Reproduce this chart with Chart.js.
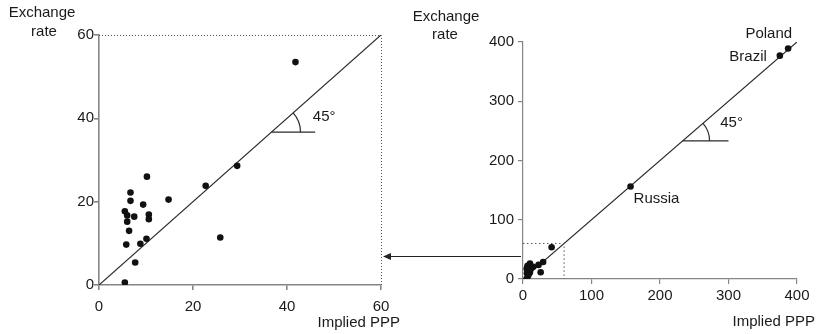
<!DOCTYPE html>
<html>
<head>
<meta charset="utf-8">
<script src="https://cdn.jsdelivr.net/npm/chart.js@4/dist/chart.umd.min.js"></script>
<style>
  html, body { margin: 0; padding: 0; background: #fff; }
  #wrap { position: relative; width: 818px; height: 334px; overflow: hidden; }
  #wrap canvas { position: absolute; left: 0; top: 0; }
</style>
</head>
<body>
<div id="wrap">
  <canvas id="zoomChart" width="818" height="334"></canvas>
  <canvas id="fullChart" width="818" height="334"></canvas>
</div>
<script>
// Implied PPP against the market exchange rate, one point per country
const impliedPPP   = [41.8, 29.4, 22.7, 25.8, 14.8, 10.2, 6.7, 6.7, 9.4, 5.5, 6.0, 7.5, 6.0, 10.6, 10.6, 6.4, 5.8, 8.8, 10.1, 7.7, 5.5];
const exchangeRate = [53.5, 28.6, 23.8, 11.4, 20.5, 26.0, 22.2, 20.2, 19.3, 17.7, 16.7, 16.4, 15.2, 16.9, 15.8, 13.0, 9.7, 9.9, 11.1, 5.4, 0.6];

// Countries far out along the line, named on the full-range panel
const namedCountries = ['Russia', 'Brazil', 'Poland'];
const namedPPP       = [157, 375, 387];
const namedRate      = [156, 377, 389];

// Axis ticks of the two panels
const zoomTicks = [0, 20, 40, 60];
const fullTicks = [0, 100, 200, 300, 400];

const FONT = 'Liberation Sans, Arial, Helvetica, sans-serif';
const INK = '#1a1a1a';
const AXIS = '#858585';

const toPoints = (xs, ys) => xs.map((x, i) => ({ x, y: ys[i] }));
const zoomMax = zoomTicks[zoomTicks.length - 1];
const fullMax = fullTicks[fullTicks.length - 1];

function axis(ticks, opts) {
  return {
    type: 'linear',
    min: ticks[0],
    max: ticks[ticks.length - 1],
    afterBuildTicks: s => { s.ticks = ticks.map(v => ({ value: v })); },
    afterFit: opts.fit,
    grid: { display: true, drawOnChartArea: false, drawTicks: true, tickLength: 5, color: AXIS, lineWidth: opts.lw },
    border: { display: true, color: AXIS, width: opts.lw },
    ticks: { padding: opts.pad, maxRotation: 0, color: INK, font: { family: FONT, size: 15 } }
  };
}

// Angle marker: short horizontal stroke and arc where it meets the diagonal
function angleMarker(chart, at, to, radius, labelX, labelY) {
  const { ctx, scales: { x, y } } = chart;
  const cx = x.getPixelForValue(at), cy = y.getPixelForValue(at);
  const ang = Math.atan2(y.getPixelForValue(1) - y.getPixelForValue(0), x.getPixelForValue(1) - x.getPixelForValue(0));
  ctx.save();
  ctx.strokeStyle = '#2a2a2a';
  ctx.lineWidth = 1.2;
  ctx.beginPath();
  ctx.moveTo(cx, cy);
  ctx.lineTo(x.getPixelForValue(to), cy);
  ctx.stroke();
  ctx.beginPath();
  ctx.arc(cx, cy, radius, ang, 0);
  ctx.stroke();
  ctx.fillStyle = INK;
  ctx.font = '15px ' + FONT;
  ctx.textAlign = 'left';
  ctx.textBaseline = 'middle';
  ctx.fillText('45°', x.getPixelForValue(labelX), y.getPixelForValue(labelY));
  ctx.restore();
}

function text(ctx, str, px, py, align) {
  ctx.fillStyle = INK;
  ctx.font = '15px ' + FONT;
  ctx.textAlign = align;
  ctx.textBaseline = 'middle';
  ctx.fillText(str, px, py);
}

const zoomDecor = {
  id: 'zoomDecor',
  afterDraw(chart) {
    const { ctx, chartArea: a, scales: { x, y } } = chart;
    // dotted frame closing the enlarged window
    ctx.save();
    ctx.strokeStyle = '#555';
    ctx.lineWidth = 1;
    ctx.setLineDash([1, 2]);
    ctx.beginPath();
    ctx.moveTo(x.getPixelForValue(0), y.getPixelForValue(zoomMax) + 0.5);
    ctx.lineTo(x.getPixelForValue(zoomMax) + 0.5, y.getPixelForValue(zoomMax) + 0.5);
    ctx.lineTo(x.getPixelForValue(zoomMax) + 0.5, y.getPixelForValue(0));
    ctx.stroke();
    ctx.restore();

    angleMarker(chart, 36.7, 46, 29, 45.5, 40.4);

    ctx.save();
    text(ctx, 'Exchange', a.left - 57, a.top - 22, 'center');
    text(ctx, 'rate', a.left - 55, a.top - 3, 'center');
    text(ctx, 'Implied PPP', a.right + 19, a.bottom + 38, 'right');
    ctx.restore();
  }
};

const zoomChart = new Chart(document.getElementById('zoomChart'), {
  type: 'scatter',
  data: {
    datasets: [
      {
        data: [{ x: 0, y: 0 }, { x: zoomMax, y: zoomMax }],
        showLine: true, borderColor: '#2a2a2a', borderWidth: 1.2, pointRadius: 0, order: 2
      },
      {
        data: toPoints(impliedPPP, exchangeRate),
        pointRadius: 3.3, pointBackgroundColor: '#111', pointBorderWidth: 0, order: 1
      }
    ]
  },
  options: {
    responsive: false,
    animation: false,
    layout: { padding: { left: 0, top: 35, right: 437, bottom: 0 } },
    plugins: { legend: { display: false }, tooltip: { enabled: false } },
    scales: {
      x: axis(zoomTicks, { fit: s => { s.height = 49; }, lw: 1.6, pad: 8 }),
      y: axis(zoomTicks, { fit: s => { s.width = 99; }, lw: 1.6, pad: 0 })
    }
  },
  plugins: [zoomDecor]
});

const labelOffsets = { Russia: [3, 12, 'left'], Brazil: [-13, 1, 'right'], Poland: [4, -15, 'right'] };
const ARROW_Y = 38;

const fullDecor = {
  id: 'fullDecor',
  afterDraw(chart) {
    const { ctx, chartArea: a, scales: { x, y } } = chart;
    angleMarker(chart, 233, 300, 27, 288, 263);

    ctx.save();
    namedCountries.forEach((name, i) => {
      const [dx, dy, align] = labelOffsets[name];
      text(ctx, name, x.getPixelForValue(namedPPP[i]) + dx, y.getPixelForValue(namedRate[i]) + dy, align);
    });
    text(ctx, 'Exchange', a.left - 77, a.top - 25, 'center');
    text(ctx, 'rate', a.left - 78, a.top - 7, 'center');
    text(ctx, 'Implied PPP', a.right + 18, a.bottom + 43, 'right');

    // arrow pointing from the small window to its enlargement
    const ay = y.getPixelForValue(ARROW_Y);
    const x0 = x.getPixelForValue(0) - 2;
    const x1 = zoomChart.scales.x.getPixelForValue(zoomMax) + 2;
    ctx.strokeStyle = '#222';
    ctx.fillStyle = '#222';
    ctx.lineWidth = 1.2;
    ctx.beginPath();
    ctx.moveTo(x0, ay);
    ctx.lineTo(x1 + 6, ay);
    ctx.stroke();
    ctx.beginPath();
    ctx.moveTo(x1, ay);
    ctx.lineTo(x1 + 8, ay - 3.5);
    ctx.lineTo(x1 + 8, ay + 3.5);
    ctx.closePath();
    ctx.fill();
    ctx.restore();
  }
};

new Chart(document.getElementById('fullChart'), {
  type: 'scatter',
  data: {
    datasets: [
      {
        data: [{ x: 0, y: 0 }, { x: fullMax, y: fullMax }],
        showLine: true, borderColor: '#2a2a2a', borderWidth: 1.2, pointRadius: 0, order: 3
      },
      {
        data: [{ x: 0, y: zoomMax }, { x: zoomMax, y: zoomMax }, { x: zoomMax, y: 0 }],
        showLine: true, borderColor: '#555', borderWidth: 1, borderDash: [1.5, 2.5], pointRadius: 0, order: 2
      },
      {
        data: toPoints(impliedPPP.concat(namedPPP), exchangeRate.concat(namedRate)),
        pointRadius: 3.3, pointBackgroundColor: '#111', pointBorderWidth: 0, order: 1
      }
    ]
  },
  options: {
    responsive: false,
    animation: false,
    layout: { padding: { left: 0, top: 42, right: 21, bottom: 0 } },
    plugins: { legend: { display: false }, tooltip: { enabled: false } },
    scales: {
      x: axis(fullTicks, { fit: s => { s.height = 55; }, lw: 1.2, pad: 3 }),
      y: axis(fullTicks, { fit: s => { s.width = 523; }, lw: 1.2, pad: 4 })
    }
  },
  plugins: [fullDecor]
});
</script>
</body>
</html>
